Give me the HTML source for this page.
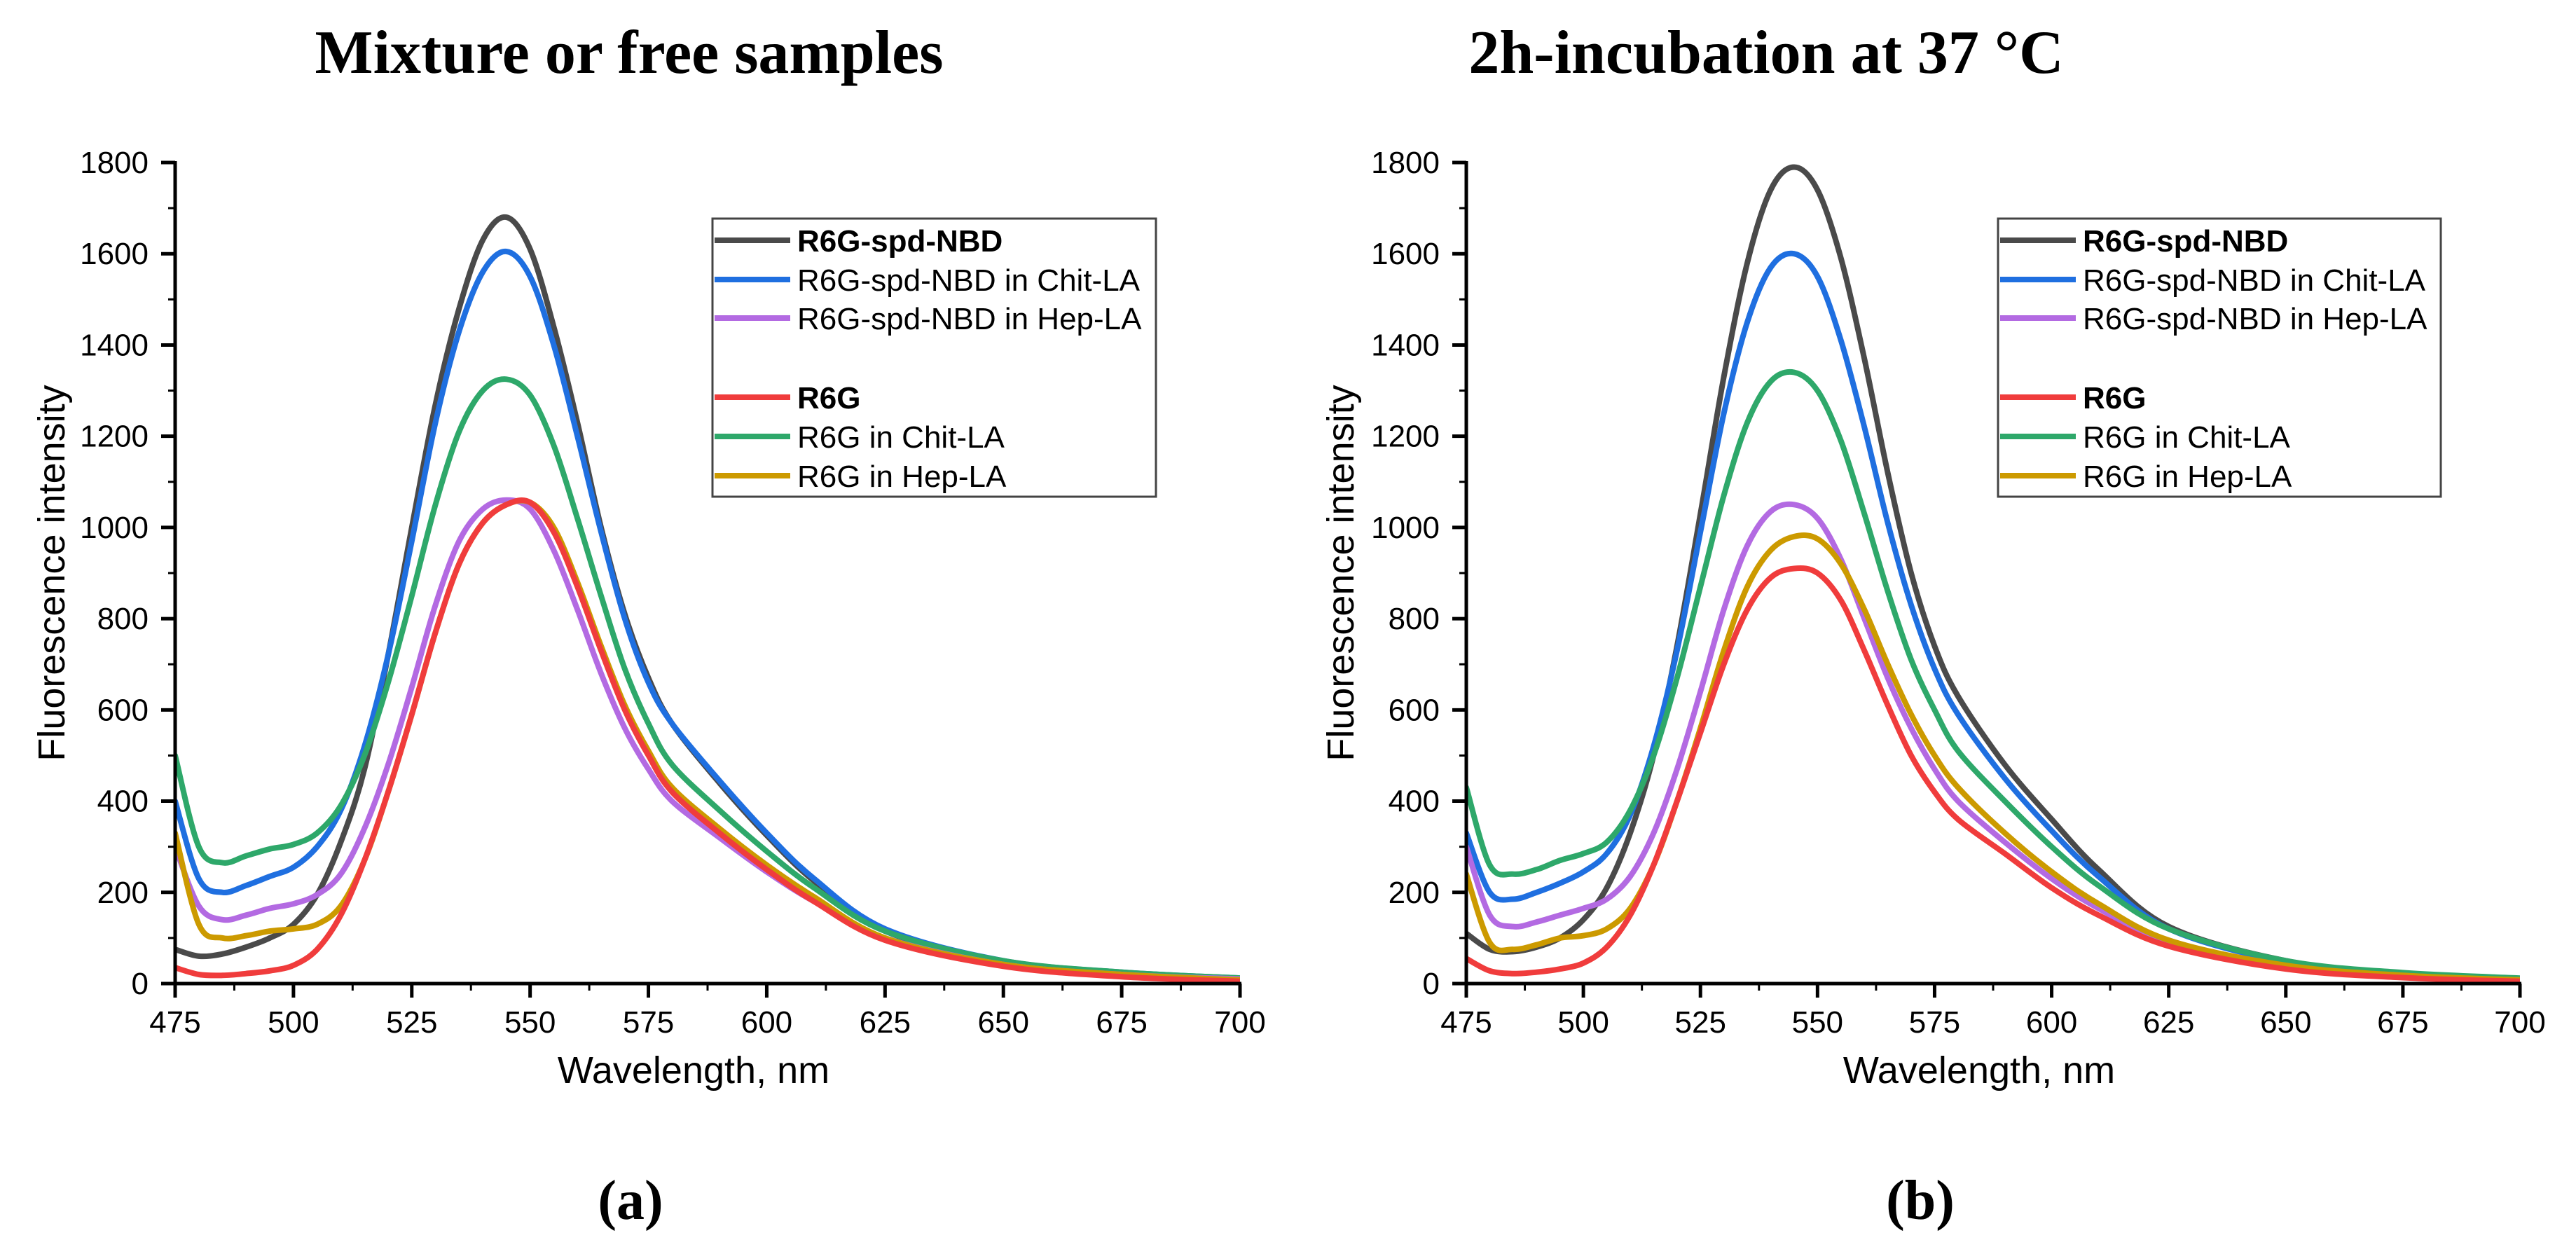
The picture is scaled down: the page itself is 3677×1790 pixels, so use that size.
<!DOCTYPE html>
<html><head><meta charset="utf-8">
<style>
html,body{margin:0;padding:0;background:#fff;}
svg{display:block;}
</style></head>
<body>
<svg id="fig" width="3677" height="1790" viewBox="0 0 3677 1790" xmlns="http://www.w3.org/2000/svg" font-family="Liberation Sans, Arial, sans-serif">
<rect width="3677" height="1790" fill="#fff"/>
<text x="898" y="104" font-family="Liberation Serif, serif" font-weight="bold" font-size="88" text-anchor="middle">Mixture or free samples</text>
<text x="2521" y="104" font-family="Liberation Serif, serif" font-weight="bold" font-size="88" text-anchor="middle">2h-incubation at 37 °C</text>
<text x="900" y="1740" font-family="Liberation Serif, serif" font-weight="bold" font-size="80" text-anchor="middle">(a)</text>
<text x="2741" y="1740" font-family="Liberation Serif, serif" font-weight="bold" font-size="80" text-anchor="middle">(b)</text>
<g id="pa"></g>
<g id="pb"></g>
</svg>
<script>
const wavelengths = [475,480,485,490,495,500,505,510,515,520,525,530,535,540,545,550,555,560,565,570,575,580,590,600,610,625,650,675,700];
const xTicks = [475,500,525,550,575,600,625,650,675,700];
const yTicks = [0,200,400,600,800,1000,1200,1400,1600,1800];
const seriesNames = ["R6G-spd-NBD","R6G-spd-NBD in Chit-LA","R6G-spd-NBD in Hep-LA","R6G","R6G in Chit-LA","R6G in Hep-LA"];
const seriesColors = ["#4a4a4a","#1f6fe0","#b36ae2","#f03c3c","#2ea86a","#cc9a00"];
const seriesBold = [true,false,false,true,false,false];

const aBlack  = [75,60,65,80,100,130,195,310,470,720,1000,1270,1480,1630,1680,1610,1440,1230,1000,810,670,570,440,325,225,115,48,22,10];
const aBlue   = [400,230,200,215,235,255,300,380,520,720,970,1230,1430,1560,1605,1550,1400,1200,990,800,660,570,445,330,230,120,50,25,12];
const aPurple = [300,170,140,150,165,175,195,240,340,480,650,830,970,1040,1060,1040,950,820,680,560,470,400,320,245,180,100,42,20,10];
const aRed    = [35,20,18,22,28,40,75,150,270,420,590,770,920,1010,1050,1055,990,870,730,600,500,420,330,250,180,95,38,15,5];
const aGreen  = [500,300,265,280,295,305,330,390,500,660,850,1050,1210,1300,1325,1290,1180,1020,850,690,570,480,380,290,210,115,50,25,12];
const aGold   = [330,130,100,105,115,120,130,170,270,420,590,770,920,1010,1050,1055,1000,880,740,610,510,430,340,260,190,100,42,20,8];

const bBlack  = [110,75,70,80,100,140,210,330,500,740,1030,1330,1580,1740,1790,1740,1590,1370,1120,900,740,630,480,360,250,125,50,22,10];
const bBlue   = [330,200,185,200,220,245,285,370,520,730,990,1250,1450,1570,1600,1550,1410,1220,1010,830,690,590,450,335,235,120,48,22,10];
const bPurple = [300,150,125,135,150,165,185,235,330,470,640,820,960,1035,1050,1020,930,800,670,560,470,400,310,230,165,90,38,16,8];
const bRed    = [55,28,22,25,32,45,80,150,260,400,550,700,820,890,910,900,840,730,610,500,420,360,285,210,150,82,32,13,5];
const bGreen  = [430,260,240,250,270,285,310,380,500,670,870,1070,1230,1320,1340,1300,1190,1030,860,710,600,510,400,300,215,120,50,24,12];
const bGold   = [240,90,75,85,100,105,120,165,260,400,560,730,870,950,980,975,920,820,700,590,500,430,330,245,175,95,40,18,8];

const NS="http://www.w3.org/2000/svg";
function mk(tag, attrs, parent){const e=document.createElementNS(NS,tag);for(const k in attrs)e.setAttribute(k,attrs[k]);parent.appendChild(e);return e;}

function smoothPath(pts){
  let d="M"+pts[0][0].toFixed(1)+","+pts[0][1].toFixed(1);
  for(let i=0;i<pts.length-1;i++){
    const p0=pts[i-1]||pts[i],p1=pts[i],p2=pts[i+1],p3=pts[i+2]||p2;
    const c1x=p1[0]+(p2[0]-p0[0])/6,c1y=p1[1]+(p2[1]-p0[1])/6;
    const c2x=p2[0]-(p3[0]-p1[0])/6,c2y=p2[1]-(p3[1]-p1[1])/6;
    d+=" C"+c1x.toFixed(1)+","+c1y.toFixed(1)+" "+c2x.toFixed(1)+","+c2y.toFixed(1)+" "+p2[0].toFixed(1)+","+p2[1].toFixed(1);
  }
  return d;
}

function drawPanel(g, x0, x1, ytitleX, legX, legW, data, suffix){
  const y0=1404, y1=232;
  const xs=v=>x0+(v-475)/(700-475)*(x1-x0);
  const ys=v=>y0-(v/1800)*(y0-y1);
  const order=[0,1,4,2,5,3];
  const clip=mk('clipPath',{id:'clip'+suffix},g);
  mk('rect',{x:x0,y:y1-20,width:x1-x0,height:y0-y1+20},clip);
  const cg=mk('g',{'clip-path':'url(#clip'+suffix+')'},g);
  for(const si of order){
    const pts=wavelengths.map((w,i)=>[xs(w),ys(data[si][i])]);
    const p=mk('path',{d:smoothPath(pts),fill:'none',stroke:seriesColors[si],'stroke-width':8,'stroke-linejoin':'round','stroke-linecap':'round'},cg);
    
    
  }
  const ax=mk('path',{d:`M${x0},${y1-2} L${x0},${y0} L${x1+2},${y0}`,fill:'none',stroke:'#000','stroke-width':5},g);
  
  
  for(let v=475;v<=700;v+=12.5){
    const major=(v-475)%25===0;
    const t=mk('line',{x1:xs(v),x2:xs(v),y1:y0,y2:y0+(major?20:10),stroke:'#000','stroke-width':major?5:3},g);
    
    
  }
  xTicks.forEach(v=>{
    const t=mk('text',{x:xs(v),y:1474,'font-size':44,'text-anchor':'middle'},g);
    t.textContent=v;
    
    
  });
  for(let v=0;v<=1800;v+=100){
    const major=v%200===0;
    const t=mk('line',{x1:x0-(major?20:10),x2:x0,y1:ys(v),y2:ys(v),stroke:'#000','stroke-width':major?5:3},g);
    
    
  }
  yTicks.forEach(v=>{
    const t=mk('text',{x:x0-38,y:ys(v)+15,'font-size':44,'text-anchor':'end'},g);
    t.textContent=v;
    
    
  });
  const xt=mk('text',{x:(x0+x1)/2-20,y:1546,'font-size':54,'text-anchor':'middle'},g);
  xt.textContent='Wavelength, nm';
  
  
  const yt=mk('text',{x:ytitleX,y:818,'font-size':54,'text-anchor':'middle',transform:`rotate(-90 ${ytitleX} 818)`},g);
  yt.textContent='Fluorescence intensity';
  
  
  const lg=mk('g',{},g);
  
  
  mk('rect',{x:legX,y:312,width:legW,height:397,fill:'#fff',stroke:'#444','stroke-width':3},lg);
  const rowsY=[343,399,454,567,623,679];
  seriesNames.forEach((n,i)=>{
    const e=mk('g',{},lg);
    
    
    mk('line',{x1:legX+3,x2:legX+111,y1:rowsY[i],y2:rowsY[i],stroke:seriesColors[i],'stroke-width':8},e);
    const t=mk('text',{x:legX+121,y:rowsY[i]+16,'font-size':44,'font-weight':seriesBold[i]?'bold':'normal'},e);
    t.textContent=n;
  });
}
drawPanel(document.getElementById('pa'),250,1770,92,1017,633,[aBlack,aBlue,aPurple,aRed,aGreen,aGold],'a');
drawPanel(document.getElementById('pb'),2093,3597,1932,2852,632,[bBlack,bBlue,bPurple,bRed,bGreen,bGold],'b');
</script>
</body></html>
